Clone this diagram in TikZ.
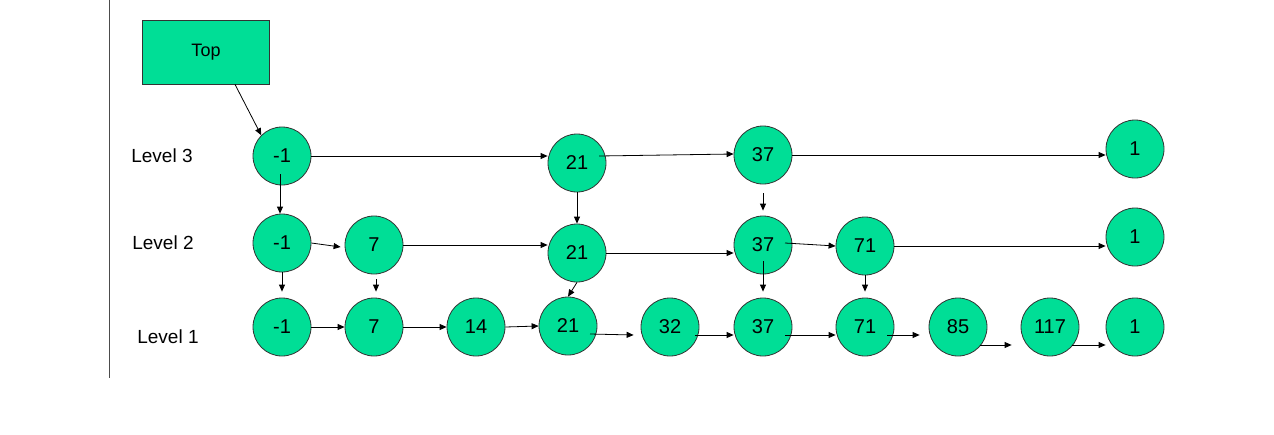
\documentclass[tikz,border=0pt]{standalone}
\usepackage{fontspec}
\setmainfont{Liberation Sans}
\usetikzlibrary{arrows.meta,calc}
\definecolor{ng}{RGB}{0,222,150}
\begin{document}
\begin{tikzpicture}[x=1pt,y=-1pt,
  nd/.style={circle,draw=black!80,fill=ng,minimum size=58pt,inner sep=0pt,font=\fontsize{20}{22}\selectfont,line width=0.8pt},
  arr/.style={-{Triangle[length=7pt,width=6pt]},line width=0.8pt},
  lbl/.style={font=\fontsize{19}{21}\selectfont}]
\useasboundingbox (0,0) rectangle (1274,434);
\draw[line width=0.8pt,black!70] (109,0) -- (109,378);
\node[draw=black!80,fill=ng,minimum width=127pt,minimum height=64pt,font=\fontsize{18}{20}\selectfont,line width=0.8pt] (top) at (206,52) {Top};
\node[lbl] (l3) at (162,156) {Level 3};
\node[lbl] (l2) at (163,243) {Level 2};
\node[lbl] (l1) at (168,337) {Level 1};
% level 3
\node[nd] (a1) at (282,156) {-1};
\node[nd] (a21) at (577,163) {21};
\node[nd] (a37) at (763,155) {37};
\node[nd] (a1e) at (1135,149) {1};
% level 2
\node[nd] (b1) at (282,243) {-1};
\node[nd] (b7) at (374,245) {7};
\node[nd] (b21) at (577,253) {21};
\node[nd] (b37) at (763,245) {37};
\node[nd] (b71) at (865,246) {71};
\node[nd] (b1e) at (1135,237) {1};
% level 1
\node[nd] (c1) at (282,327) {-1};
\node[nd] (c7) at (374,327) {7};
\node[nd] (c14) at (476,327) {14};
\node[nd] (c21) at (568,326) {21};
\node[nd] (c32) at (670,327) {32};
\node[nd] (c37) at (763,327) {37};
\node[nd] (c71) at (865,327) {71};
\node[nd] (c85) at (958,327) {85};
\node[nd] (c117) at (1050,327) {117};
\node[nd] (c1e) at (1135,327) {1};
% top pointer
\draw[arr] ($(top.south)+(29,0)$) -- (a1.north west);
% horizontal level 3
\draw[arr] (a1.east) -- (a1.east -| a21.west);
\draw[arr] ($(a21.center)+(22,-7)$) -- ($(a37.west)+(0,-1)$);
\draw[arr] (a37.east) -- (a37.east -| a1e.west);
% level 2
\draw[arr] (b1.east) -- ($(b7.west)+(-4,2)$);
\draw[arr] (b7.east) -- (b7.east -| b21.west);
\draw[arr] (b21.east) -- (b21.east -| b37.west);
\draw[arr] ($(b37.center)+(22,-2)$) -- (b71.west);
\draw[arr] (b71.east) -- (b71.east -| b1e.west);
% level 1
\draw[arr] (c1.east) -- (c7.west);
\draw[arr] (c7.east) -- (c14.west);
\draw[arr] (c14.east) -- (c21.west);
\draw[arr] ($(c21.center)+(22,8)$) -- ($(c32.west)+(-7,8)$);
\draw[arr] ($(c32.center)+(25,8)$) -- ($(c37.west)+(0,8)$);
\draw[arr] ($(c37.center)+(22,8)$) -- ($(c71.west)+(0,8)$);
\draw[arr] ($(c71.center)+(22,8)$) -- ($(c85.west)+(-9,8)$);
\draw[arr] ($(c85.center)+(22,18)$) -- ($(c117.west)+(-9,18)$);
\draw[arr] ($(c117.center)+(22,18)$) -- ($(c1e.west)+(0,18)$);
% vertical
\draw[arr] ($(a1.center)+(-2,18)$) -- ($(b1.north)+(-2,0)$);
\draw[arr] (a21.south) -- (b21.north);
\draw[arr] ($(a37.south)+(0,9)$) -- ($(b37.north)+(0,-5)$);
\draw[arr] (b1.south) -- ($(c1.north)+(0,-6)$);
\draw[arr] ($(b7.south)+(2,5)$) -- ($(c7.north)+(2,-6)$);
\draw[arr] (b21.south) -- (c21.north);
\draw[arr] ($(b37.center)+(0,16)$) -- ($(c37.north)+(0,-6)$);
\draw[arr] (b71.south) -- ($(c71.north)+(0,-6)$);
\end{tikzpicture}
\end{document}
